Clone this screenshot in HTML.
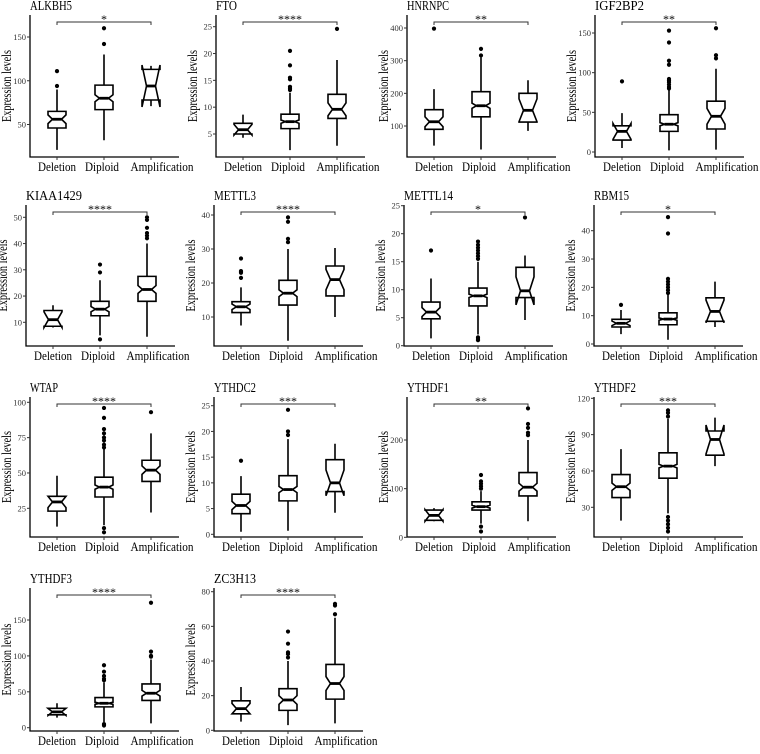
<!DOCTYPE html>
<html><head><meta charset="utf-8"><style>
html,body{margin:0;padding:0;background:#fff}
svg, svg text{font-family:"Liberation Serif",serif}
</style></head><body>
<svg id="chart" width="760" height="749" viewBox="0 0 760 749" xmlns="http://www.w3.org/2000/svg"></svg>
<script>
const categories=["Deletion","Diploid","Amplification"];
const genes=["ALKBH5","FTO","HNRNPC","IGF2BP2","KIAA1429","METTL3","METTL14","RBM15","WTAP","YTHDC2","YTHDF1","YTHDF2","YTHDF3","ZC3H13"];
const signif=["*","****","**","**","****","****","*","*","****","***","**","***","****","****"];
const tickValues=[[50,100,150],[5,10,15,20,25],[100,200,300,400],[0,50,100,150],[10,20,30,40,50],[10,20,30,40],[0,5,10,15,20,25],[0,10,20,30,40],[25,50,75,100],[0,5,10,15,20,25],[0,100,200],[30,60,90,120],[0,50,100,150],[0,20,40,60,80]];
const whiskLo=[[21,32,71],[4.3,2,2.8],[40,28,85],[5,2,3],[8,5,4.5],[7.5,3,10],[1.3,2,4.6],[3.5,1.5,6],[12,13,22],[0.5,0.7,4.2],[33,28,33],[19,25,64],[14,8,6],[5,3,4]];
const q1=[[46,67,78],[5,6,7.9],[90,128,112],[15,26,29],[8.5,12.5,18],[11.3,13.5,16.2],[4.8,7.1,8.6],[6,6.8,8],[23,33,44],[4,6.5,8.3],[35,56,85],[38,54,73],[18,29,38],[9.5,11.5,18]];
const medians=[[56,80,94],[5.8,7.3,9.6],[113,162,148],[26,35,45],[11,15,22.5],[13,17,21],[6,8.9,9.8],[7.3,8.8,11.5],[29.5,40,52],[5.6,8.7,10],[45,63,103],[47,64,86],[22,34,48],[12.5,17.5,27]];
const q3=[[65,95,113],[7,8.7,12.4],[150,205,200],[33,47,64],[14.5,18,27.5],[14.5,20.8,25],[7.8,10.3,14],[8.7,11,16.3],[33.5,47,59],[7.8,11.4,14.5],[56,73,133],[57,75,93],[27,42,61],[17,24,38]];
const whiskHi=[[90,130,117],[8.6,12.7,18.8],[213,310,240],[49,78,105],[16.5,26,40],[18.7,30,30.3],[12,15,16.1],[12,17.5,22],[48,67,78],[11.3,18.5,17.6],[60,95,200],[78,103,104],[34,63,95],[25,40,65]];
const notchHalf=[[5,4,24],[1,0.3,1.2],[15,8,35],[10,2,10],[3,1,1.5],[0.8,1,3],[0.8,0.3,2.5],[0.8,0.4,4],[4,1.5,3],[0.8,0.6,2.5],[12,3,8],[3,1.5,12],[5,1.5,4],[3,2.5,4]];
const outliers=[
[[94,111],[142,160],[]],
[[],[13.2,13.5,13.8,15.2,15.5,17.8,20.5],[24.6]],
[[398],[316,336],[]],
[[89],[80,82,85,88,90,92,110,115,138,153],[118,122,156]],
[[],[3.5,29,32],[42,43,44,46,49,50]],
[[21.5,23,23.5,27.2],[32,33,38,39.3],[]],
[[17],[1,1.2,1.5,15.5,16,16.5,17,17.5,18,18.6],[22.9]],
[[13.8],[18,19,20,21,22,23,39,44.8],[]],
[[],[8,11,68,70,73,75,78,81,89,96],[93]],
[[14.3],[19.3,20,24.2],[]],
[[],[12,22,100,105,110,115,128],[210,215,225,233,265]],
[[],[10,13,16,19,22,105,108,110],[]],
[[],[3,5,66,68,72,78,87],[99,100,106,174]],
[[],[42,44,45,50,57],[67,72,73]]];

// layout (pixel positions, not data)
const panelC1=[57,243,434,622,53,241,431,621,57,241,434,621,57,241];
const tickPx=[[124.5,37],[134,26.7],[126,28],[152,33],[322.3,217.3],[317,215],[345.7,205.7],[344,230.7],[508.3,402.3],[534.3,405.7],[537.3,440],[507.3,398.3],[727.7,620],[730.3,591.7]];
const rowTop=[15,205,397,588], rowBot=[157,346,537,731];
const catLen=[38,34,63];
const catShift=[0,-2,11];
const SP=47, BW=18;
const NS="http://www.w3.org/2000/svg";
const svg=document.getElementById("chart");
function mk(tag,attrs,parent){const e=document.createElementNS(NS,tag);for(const k in attrs)e.setAttribute(k,attrs[k]);(parent||svg).appendChild(e);return e;}

genes.forEach((g,p)=>{
  const row=Math.floor(p/4);
  const top=rowTop[row], bot=rowBot[row];
  const c1=panelC1[p], ax=c1-27;
  const xs=categories.map((c,i)=>c1+i*SP);
  const tv=tickValues[p], tp=tickPx[p];
  const y=v=>tp[0]+(v-tv[0])*(tp[1]-tp[0])/(tv[tv.length-1]-tv[0]);
  const grp=mk("g",{});
  
  
  const t=mk("text",{x:ax,y:top-5,"font-size":14,textLength:g.length*7,lengthAdjust:"spacingAndGlyphs"},grp);t.textContent=g;
  
  
  const yl=mk("text",{x:0,y:0,"font-size":14,"text-anchor":"middle",textLength:72,lengthAdjust:"spacingAndGlyphs",transform:`translate(${ax-19},${(top+bot)/2}) rotate(-90)`},grp);yl.textContent="Expression levels";
  
  
  const axl=mk("path",{d:`M${ax},${top}V${bot}H${xs[2]+28}`,stroke:"#000","stroke-width":1.3,fill:"none"},grp);
  
  
  tv.forEach(v=>{
    const ty=y(v);
    mk("line",{x1:ax-3,x2:ax,y1:ty,y2:ty,stroke:"#333","stroke-width":1},grp);
    const tl=mk("text",{x:ax-4,y:ty+3,"font-size":8.5,"text-anchor":"end",fill:"#333"},grp);tl.textContent=v;
    
    
  });
  xs.forEach((x,i)=>{
    mk("line",{x1:x,x2:x,y1:bot,y2:bot+3,stroke:"#333","stroke-width":1},grp);
    const cl=mk("text",{x:x+catShift[i],y:bot+14,"font-size":13,"text-anchor":"middle",textLength:catLen[i],lengthAdjust:"spacingAndGlyphs"},grp);cl.textContent=categories[i];
    
    
    const lo=whiskLo[p][i],a=q1[p][i],m=medians[p][i],b=q3[p][i],hi=whiskHi[p][i],nh=notchHalf[p][i];
    const wh=mk("path",{d:`M${x},${y(b)}V${y(hi)}M${x},${y(a)}V${y(lo)}`,stroke:"#000","stroke-width":1.6},grp);
    
    
    const l=x-BW/2,r=x+BW/2,ind=BW/4;
    const pts=[[l,y(b)],[l,y(m+nh)],[l+ind,y(m)],[l,y(m-nh)],[l,y(a)],[r,y(a)],[r,y(m-nh)],[r-ind,y(m)],[r,y(m+nh)],[r,y(b)]];
    const bx=mk("polygon",{points:pts.map(q=>q.join(",")).join(" "),fill:"#fff",stroke:"#000","stroke-width":1.6,"stroke-linejoin":"miter"},grp);
    
    
    const md=mk("line",{x1:l+ind,x2:r-ind,y1:y(m),y2:y(m),stroke:"#000","stroke-width":2.8},grp);
    
    
    outliers[p][i].forEach(o=>{
      const d=mk("circle",{cx:x,cy:y(o),r:2.1,fill:"#000"},grp);
      
      
    });
  });
  const by=top+7;
  const br=mk("path",{d:`M${xs[0]},${by+3}V${by}H${xs[2]}V${by+3}`,stroke:"#333","stroke-width":1,fill:"none"},grp);
  
  
  const st=mk("text",{x:xs[1],y:by+1,"font-size":12,"text-anchor":"middle"},grp);st.textContent=signif[p];
  
  
});
</script>
</body></html>
